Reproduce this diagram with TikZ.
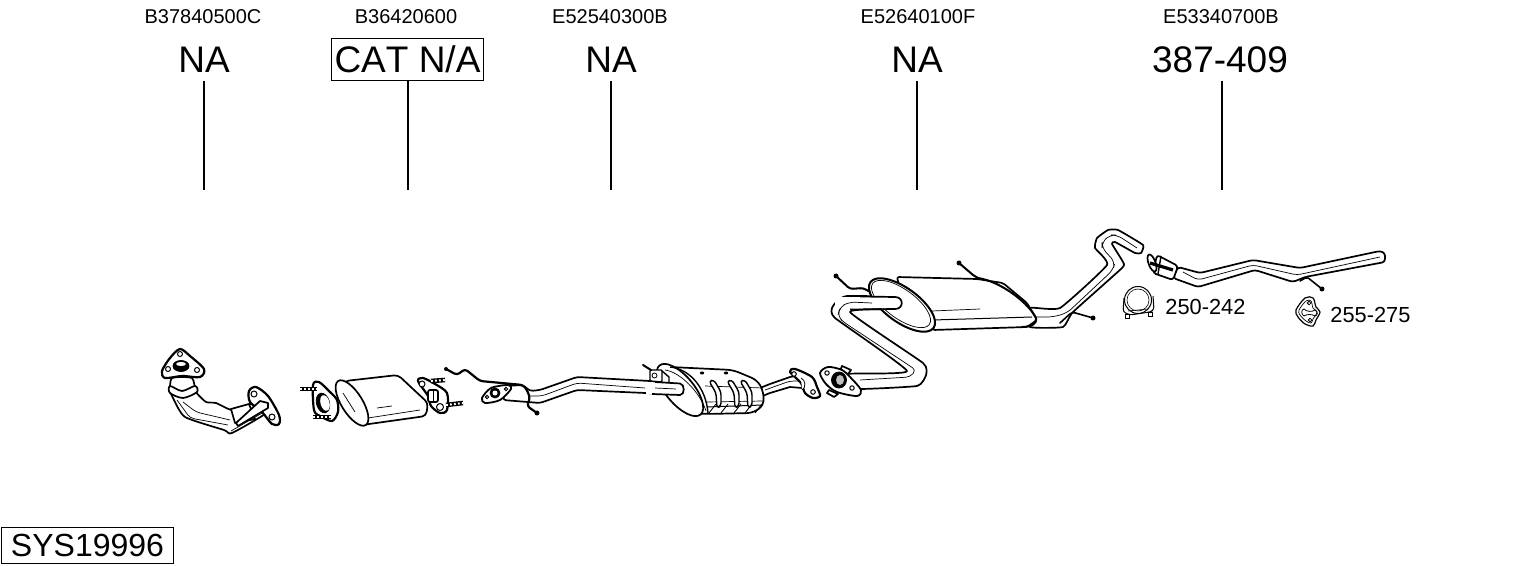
\documentclass[tikz,border=0pt]{standalone}
\usepackage{fontspec}
\setmainfont[Kerning=Off]{Liberation Sans}
\usetikzlibrary{calc}

\tikzset{
  pipe/.style={draw=black,fill=white,line width=.85pt,line join=round},
  flange/.style={draw=black,fill=white,line width=1.1pt,line join=round},
  seam/.style={draw=black,line width=.35pt,rounded corners=2pt},
  band/.style={draw=black,line width=1.1pt,line cap=round,line join=round},
  hole/.style={draw=black,fill=white,line width=.5pt},
  stud/.style={preaction={draw=black,solid,line width=2.3pt},draw=white,line width=1pt,dash pattern=on .9pt off 1.1pt},
  partno/.style={font=\fontsize{10}{12}\selectfont,inner sep=0pt},
  price/.style={font=\fontsize{18.5}{22}\selectfont,text height=13.2pt,text depth=0pt,inner xsep=1.75pt,inner ysep=3.9pt},
  small/.style={font=\fontsize{10.9}{13}\selectfont,inner sep=0pt},
}

\begin{document}
\begin{tikzpicture}[x=.5pt,y=-.5pt]
\useasboundingbox (0,0) rectangle (1530,566);

\coordinate (endA) at (204,190);
\coordinate (endB) at (408,190);
\coordinate (endC) at (611,190);
\coordinate (endD) at (917,190);
\coordinate (endE) at (1222,190);

\node[partno] (partA) at (203,17) {B37840500C};
\node[partno] (partB) at (406,17) {B36420600};
\node[partno] (partC) at (610,17) {E52540300B};
\node[partno] (partD) at (918,17) {E52640100F};
\node[partno] (partE) at (1221,17) {E53340700B};

\node[price] (priceA) at (204,59.5) {NA};
\node[price,draw,line width=.5pt] (priceB) at (407.5,59.5) {CAT N/A};
\node[price] (priceC) at (611,59.5) {NA};
\node[price] (priceD) at (917,59.5) {NA};
\node[price] (priceE) at (1220,59.5) {387-409};

\draw[line width=.6pt] (priceA.south) -- (endA);
\draw[line width=.6pt] (priceB.south -| endB) -- (endB);
\draw[line width=.6pt] (priceC.south) -- (endC);
\draw[line width=.6pt] (priceD.south) -- (endD);
\draw[line width=.6pt] (priceE.south -| endE) -- (endE);

\node[draw,line width=.5pt,font=\fontsize{16}{19}\selectfont,text height=11.5pt,text depth=0pt,inner xsep=4.5pt,inner ysep=3.25pt] (sysno) at (87.5,545) {SYS19996};

\node[small,anchor=west] (clampno) at (1165,307) {250-242};
\node[small,anchor=west] (hangerno) at (1330,314.5) {255-275};

% front pipe
\draw[pipe] plot[smooth cycle,tension=.35] coordinates {(172,378) (170,390) (173,398) (185,417) (224,430) (232,433) (268,412) (267,402) (250,404) (232,410) (216,403) (206,402) (196,392) (192,378)};
\draw[seam] (177,400) -- (190,418) -- (228,425);
\draw[seam] (183,402) -- (196,412) -- (230,420);
\draw[pipe] (231,409) -- (249,404) -- (255,419) -- (235,423) -- cycle;
\draw[seam] (231,431) -- (264,412);
\draw[pipe] plot[smooth cycle,tension=.5] coordinates {(170,386) (182,391) (195,386) (197,392) (183,398) (170,393)};
\draw[flange] plot[smooth cycle,tension=.5] coordinates {(180,349) (190,356) (204,369) (200,377) (182,376) (165,378) (162,371) (170,358)};
\draw[fill=black] (181,366) ellipse [x radius=8,y radius=5.5];
\fill[white] (181,364) ellipse [x radius=5,y radius=2];
\foreach \hx/\hy in {180/354,168/369,197/370}
  \draw[hole] (\hx,\hy) circle (2.5);
\draw[flange] plot[smooth cycle,tension=.5] coordinates {(249,391) (256,387) (268,396) (279,415) (279,424) (272,424) (262,412) (250,402)};
\draw[hole] (254,394) circle (3) (272,417) circle (3);
\draw[pipe] (260,401) -- (268,403) -- (268,408) -- (238,426) -- (236,423) -- cycle;

% first catalyst
\draw[flange] plot[smooth cycle,tension=.5] coordinates {(313,385) (319,382) (330,392) (337,400) (338,412) (332,421) (320,416) (314,410)};
\draw[fill=black] (323,403) ellipse [x radius=6.5,y radius=10,rotate=15];
\fill[white] (325,403) ellipse [x radius=4.5,y radius=8,rotate=15];
\draw[stud] (300,389) -- (317,389);
\draw[stud] (313,417) -- (331,417);
\draw[pipe,rounded corners=2pt] (398,375) -- (428,403) -- (426,416) -- (362,425) -- (338,392) -- (345,381) -- cycle;
\draw[pipe] (352,403) ellipse [x radius=26,y radius=10.5,rotate=-58];
\draw[seam] (368,418) -- (420,410);
\draw[seam] (377,408) -- (392,406);
\draw[seam] (343,393) -- (355,412);
\draw[flange] plot[smooth cycle,tension=.5] coordinates {(418,381) (423,378) (435,384) (447,393) (447,410) (440,413) (431,406) (428,396)};
\draw[pipe,rounded corners=1pt] (428,390) -- (438,390) -- (438,402) -- (428,402) -- cycle;
\draw[seam] (433,390) -- (433,402);
\draw[hole] (422,384) circle (3) (440,407) circle (3.5);
\draw[stud] (431,381) -- (445,380);
\draw[stud] (446,405) -- (463,403);

% middle pipe with front silencer
\draw[pipe,rounded corners=1.5pt] (505,386) -- (523,385) -- (530,391) -- (540,390) -- (577,377) -- (668,382) -- (668,394) -- (577,390) -- (540,403) -- (503,400) -- cycle;
\draw[seam] (528,396) -- (542,396) -- (577,383) -- (645,388);
\draw[band,rounded corners=1.5pt] (446,369) -- (457,375) -- (465,369) -- (480,381) -- (523,385) -- (527,390) -- (530,398) -- (527,406) -- (537,413);
\fill (446,369) circle (2) (537,413) circle (2.5);
\draw[flange,line width=.9pt] plot[smooth cycle,tension=.5] coordinates {(482,398) (491,388) (508,385) (511,389) (500,400) (485,403)};
\draw[fill=black] (495,393) circle (5);
\fill[white] (495,393) circle (2.5);
\draw[hole] (487,397) circle (1.7) (506,389) circle (1.7);
\draw[pipe] (760,388) -- (770,384) -- (790,377) -- (801,375) -- (802,388) -- (790,387) -- (770,393) -- (760,397) -- cycle;
\draw[seam] (765,390) -- (790,381) -- (802,381);
\draw[pipe,rounded corners=3pt] (670,367) -- (733,370) -- (757,380) -- (763,390) -- (764,405) -- (753,413) -- (707,414) -- (690,413) -- cycle;
\draw[pipe] (680,390) ellipse [x radius=32,y radius=14,rotate=-50];
\draw[seam] (665,370) .. controls (680,372) and (700,392) .. (706,411);
\draw[line width=.7pt] (670,367) .. controls (690,369) and (706,388) .. (708,413);
\draw[draw=none,fill=white] (646,383) rectangle (680,393.5);
\draw[line width=.85pt] (655,382) -- (680,383.5) .. controls (685,384) and (685,395) .. (680,395) -- (652,394);
\draw[seam] (655,388) -- (676,389);
\draw[pipe,rounded corners=.5pt,line width=.7pt] (650,370) -- (662,370) -- (662,382) -- (650,381) -- cycle;
\draw[line width=.4pt] (654.5,375.5) circle (2.5);
\draw[line width=.7pt] (662,371) -- (669,377) -- (669,382);
\draw[band,line width=1pt] (643,365) -- (651,370);
\foreach \hx/\hy in {702/373,726/373}
  \fill (\hx,\hy) ellipse [x radius=2.2,y radius=1.5];
\draw[seam] (705,386) -- (763,388);
\draw[seam] (707,402) -- (763,401);
\draw[line width=.5pt] (707,407) -- (763,405);
\foreach \rx in {712,730,743}
  \draw[pipe,rounded corners=1.5pt,line width=.7pt] (\rx-3,381) -- (\rx+2,380) -- (\rx+9,392) -- (\rx+9,406) -- (\rx+5,408) -- (\rx+4,393) -- cycle;
\foreach \rx in {716,728,741,752,762}
  \draw[line width=.45pt] (\rx,404) -- (\rx-7,413);

% rear flanges
\draw[flange] plot[smooth cycle,tension=.5] coordinates {(790,372) (795,369) (812,377) (817,387) (820,396) (813,398) (805,393) (801,383)};
\draw[pipe,line width=.4pt] (801,378) .. controls (806,380) and (806,388) .. (802,390);
\draw[hole] (794,374) circle (2.3) (813,392) circle (2.3);

% S bend pipe
\draw[pipe] plot[smooth cycle,tension=.25] coordinates {(847,374) (907,371) (835,318) (832,308) (837,301) (847,296) (900,297) (903,303) (900,309) (850,312) (923,363) (926,375) (917,386) (850,389)};
\draw[seam] (860,380) -- (910,377) -- (916,370) -- (842,321) -- (838,315) -- (840,307) -- (849,302) -- (872,303);
\draw[pipe] (842,366) -- (851,370) -- (848,374) -- (840,371) -- cycle;
\draw[pipe] (829,390) -- (838,394) -- (834,397) -- (827,393) -- cycle;
\draw[flange,line width=.9pt] plot[smooth cycle,tension=.5] coordinates {(820,373) (828,367) (842,370) (851,378) (861,390) (857,396) (837,392) (826,384)};
\draw[fill=black] (839,380) ellipse [x radius=7.5,y radius=8];
\fill[white!75!black] (840,380) ellipse [x radius=4,y radius=5];
\draw[hole] (827,373) circle (2.2) (852,388) circle (2.2);

% rear muffler
\draw[band,line width=1pt,rounded corners=1.5pt] (836,276) -- (850,289) -- (863,288) -- (872,293);
\fill (836,276) circle (2.5);
\draw[pipe] plot[smooth cycle,tension=.25] coordinates {(1030,308) (1060,308) (1107,265) (1095,248) (1097,238) (1108,230) (1118,230) (1143,245) (1141,253) (1135,253) (1115,242) (1112,244) (1123,262) (1122,268) (1073,312) (1063,327) (1030,327)};
\draw[seam,rounded corners=3pt] (1035,317) -- (1053,317) -- (1067,313) -- (1113,270) -- (1115,262) -- (1102,248) -- (1102,242) -- (1110,235) -- (1117,235) -- (1137,248);
\draw[band,line width=.8pt,rounded corners=1.5pt] (1060,323) -- (1072,312) -- (1093,318);
\fill (1093,318) circle (2.5);
\draw[pipe,rounded corners=1pt] (897,277) -- (977,279) -- (1003,283) -- (1027,303) -- (1037,320) -- (1027,327) -- (933,330) -- (905,310) -- cycle;
\draw[seam] (932,311) -- (980,309);
\draw[line width=.5pt] (933,320) -- (1032,317);
\draw[band,line width=1pt] (959,263) -- (973,275) -- (978,278) .. controls (1003,282) and (1030,305) .. (1036,318) .. controls (1037,325) and (1030,327) .. (1022,327);
\fill (959,263) circle (2.5);
\draw[pipe,line width=1pt] (902,305) ellipse [x radius=39,y radius=17,rotate=-36];
\draw[line width=.35pt] (901,304) ellipse [x radius=35,y radius=14.5,rotate=-36];
\draw[draw=none,fill=white] (835,297.5) rectangle (895,308.5);
\draw[line width=.85pt] (850,309.5) -- (895,309) .. controls (904,309) and (904,297) .. (895,297) -- (860,296.5);
\draw[seam,rounded corners=3pt] (838,315) -- (840,307) -- (849,302) -- (872,303);

% tail pipe
\draw[pipe,rounded corners=1.5pt] (1178,267) -- (1200,273) -- (1253,260) -- (1300,268) -- (1380,251) -- (1385,253) -- (1385,262) -- (1305,277) -- (1293,282) -- (1255,270) -- (1198,287) -- (1173,278) -- cycle;
\draw[seam] (1183,272) -- (1198,280) -- (1253,265) -- (1297,275) -- (1380,257);
\draw[pipe,rounded corners=1.5pt] (1157,255) -- (1178,266) -- (1173,280) -- (1153,273) -- cycle;
\draw[pipe] (1152,263) ellipse [x radius=3.5,y radius=9,rotate=20];
\draw[line width=1.6pt] (1150,263) -- (1173,270);
\draw[line width=.7pt] (1161,256) -- (1158,274);
\draw[band,line width=.8pt,rounded corners=1pt] (1300,281) -- (1307,277) -- (1322,289);
\fill (1322,289) circle (2.5);

% clamp
\draw[line width=.5pt] (1138,300) circle (13.5);
\draw[line width=.3pt] (1138,300) circle (11);
\draw[line width=.5pt,rounded corners=1.5pt] (1124,298) -- (1123,312) -- (1130,315) -- (1150,312) -- (1154,310) -- (1153,296);
\draw[line width=.3pt] (1128,311) -- (1148,309);
\draw[hole,line width=.4pt] (1125,314) rectangle (1129,318);
\draw[hole,line width=.4pt] (1148,312) rectangle (1152,316);

% hanger
\draw[line width=.6pt] plot[smooth cycle,tension=.55] coordinates {(1296,310) (1305,298) (1313,298) (1316,307) (1320,312) (1316,320) (1313,326) (1305,324) (1298,317)};
\draw[line width=.35pt] plot[smooth cycle,tension=.55] coordinates {(1299,310) (1306,301) (1311,301) (1313,308) (1317,312) (1313,319) (1311,323) (1306,321) (1300,315)};
\draw[line width=.4pt] (1309,303) circle (1.8) (1310,320) circle (1.8);
\draw[line width=.4pt] (1304,309) .. controls (1307,312) and (1312,312) .. (1315,310) .. controls (1318,311) and (1318,316) .. (1315,316) .. controls (1312,314) and (1307,314) .. (1304,316) .. controls (1301,315) and (1301,309) .. (1304,309);

\end{tikzpicture}
\end{document}
